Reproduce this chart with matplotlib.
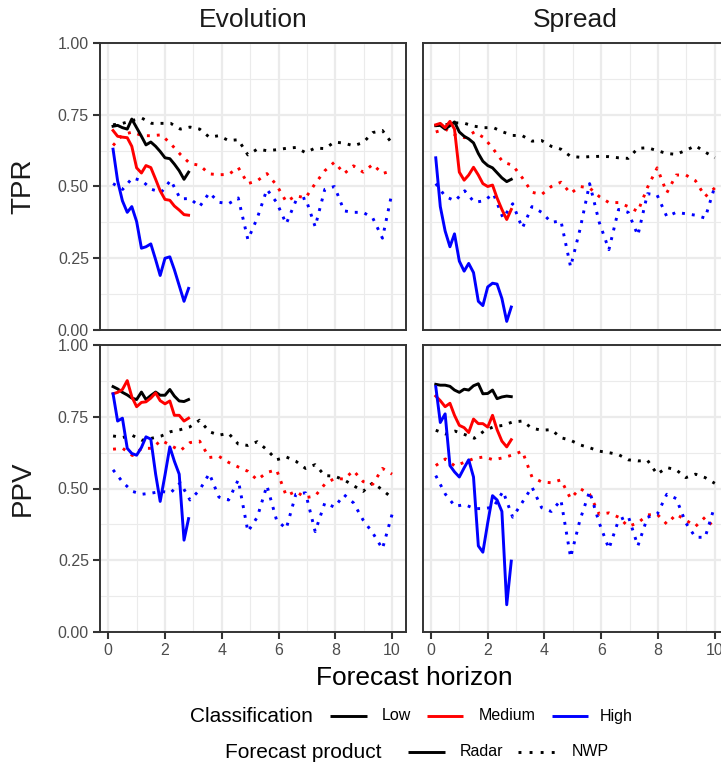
import matplotlib.pyplot as plt
from matplotlib.lines import Line2D

plt.rcParams['font.family'] = ['Liberation Sans', 'DejaVu Sans']

# forecast horizon (hours)
horizon_radar = [0.17, 0.33, 0.5, 0.67, 0.83, 1.0, 1.17, 1.33, 1.5, 1.67,
                 1.83, 2.0, 2.17, 2.33, 2.5, 2.67, 2.83]
horizon_nwp = [0.17, 0.51, 0.85, 1.19, 1.53, 1.87, 2.20, 2.54, 2.88, 3.22,
               3.56, 3.90, 4.24, 4.58, 4.92, 5.25, 5.59, 5.93, 6.27, 6.61,
               6.95, 7.29, 7.63, 7.97, 8.31, 8.64, 8.98, 9.32, 9.66, 10.0]

# TPR - Evolution
tpr_evo_radar_low = [0.71, 0.713, 0.705, 0.70, 0.735, 0.705, 0.675, 0.645, 0.655, 0.64,
                     0.622, 0.60, 0.597, 0.578, 0.555, 0.525, 0.55]
tpr_evo_radar_med = [0.695, 0.675, 0.672, 0.67, 0.64, 0.565, 0.547, 0.573, 0.566, 0.525,
                     0.485, 0.455, 0.452, 0.432, 0.418, 0.402, 0.40]
tpr_evo_radar_high = [0.63, 0.52, 0.45, 0.41, 0.43, 0.378, 0.285, 0.29, 0.30, 0.245,
                      0.19, 0.25, 0.255, 0.21, 0.155, 0.10, 0.145]
tpr_evo_nwp_low = [0.715, 0.72, 0.73, 0.738, 0.72, 0.72, 0.72, 0.70, 0.707, 0.70,
                   0.672, 0.677, 0.66, 0.663, 0.61, 0.63, 0.625, 0.628, 0.633, 0.636,
                   0.618, 0.634, 0.632, 0.655, 0.651, 0.642, 0.653, 0.688, 0.695, 0.65]
tpr_evo_nwp_med = [0.643, 0.68, 0.69, 0.677, 0.677, 0.68, 0.649, 0.612, 0.58, 0.574,
                   0.544, 0.541, 0.542, 0.566, 0.51, 0.52, 0.545, 0.505, 0.447, 0.468,
                   0.46, 0.51, 0.555, 0.585, 0.545, 0.572, 0.55, 0.577, 0.545, 0.555]
tpr_evo_nwp_high = [0.51, 0.49, 0.53, 0.52, 0.49, 0.48, 0.522, 0.457, 0.458, 0.43,
                    0.478, 0.445, 0.44, 0.46, 0.315, 0.39, 0.49, 0.445, 0.37, 0.45,
                    0.46, 0.36, 0.49, 0.50, 0.415, 0.41, 0.41, 0.39, 0.32, 0.48]

# TPR - Spread
tpr_spr_radar_low = [0.712, 0.713, 0.70, 0.712, 0.725, 0.69, 0.675, 0.666, 0.652, 0.615,
                     0.588, 0.573, 0.565, 0.548, 0.53, 0.517, 0.525]
tpr_spr_radar_med = [0.715, 0.72, 0.705, 0.727, 0.70, 0.55, 0.522, 0.54, 0.567, 0.54,
                     0.51, 0.50, 0.505, 0.46, 0.42, 0.385, 0.42]
tpr_spr_radar_high = [0.60, 0.43, 0.345, 0.29, 0.335, 0.24, 0.205, 0.232, 0.20, 0.10,
                      0.085, 0.15, 0.163, 0.16, 0.11, 0.03, 0.08]
tpr_spr_nwp_low = [0.712, 0.715, 0.722, 0.72, 0.71, 0.705, 0.705, 0.69, 0.678, 0.677,
                   0.658, 0.66, 0.64, 0.63, 0.605, 0.602, 0.604, 0.605, 0.604, 0.60,
                   0.598, 0.633, 0.635, 0.625, 0.615, 0.612, 0.626, 0.642, 0.62, 0.60]
tpr_spr_nwp_med = [0.69, 0.70, 0.68, 0.67, 0.69, 0.67, 0.63, 0.585, 0.574, 0.53,
                   0.48, 0.472, 0.50, 0.515, 0.476, 0.50, 0.495, 0.465, 0.444, 0.444,
                   0.43, 0.413, 0.497, 0.565, 0.478, 0.54, 0.54, 0.52, 0.465, 0.495]
tpr_spr_nwp_high = [0.51, 0.465, 0.45, 0.485, 0.445, 0.45, 0.475, 0.39, 0.44, 0.355,
                    0.43, 0.41, 0.375, 0.38, 0.22, 0.35, 0.51, 0.375, 0.28, 0.42,
                    0.41, 0.33, 0.475, 0.47, 0.395, 0.41, 0.405, 0.40, 0.39, 0.50]

# PPV - Evolution
ppv_evo_radar_low = [0.855, 0.847, 0.835, 0.826, 0.815, 0.81, 0.836, 0.81, 0.824, 0.836,
                     0.825, 0.825, 0.845, 0.822, 0.805, 0.803, 0.81]
ppv_evo_radar_med = [0.83, 0.835, 0.845, 0.876, 0.82, 0.785, 0.80, 0.802, 0.815, 0.833,
                     0.806, 0.795, 0.805, 0.755, 0.755, 0.735, 0.745]
ppv_evo_radar_high = [0.83, 0.735, 0.745, 0.64, 0.622, 0.616, 0.643, 0.68, 0.672, 0.55,
                      0.455, 0.547, 0.645, 0.595, 0.55, 0.32, 0.395]
ppv_evo_nwp_low = [0.683, 0.678, 0.685, 0.668, 0.675, 0.683, 0.698, 0.705, 0.715, 0.738,
                   0.698, 0.686, 0.692, 0.655, 0.65, 0.663, 0.635, 0.60, 0.61, 0.595,
                   0.57, 0.583, 0.545, 0.543, 0.53, 0.51, 0.49, 0.52, 0.495, 0.467]
ppv_evo_nwp_med = [0.637, 0.64, 0.615, 0.64, 0.64, 0.668, 0.65, 0.632, 0.66, 0.665,
                   0.608, 0.612, 0.591, 0.575, 0.56, 0.53, 0.556, 0.565, 0.475, 0.49,
                   0.468, 0.474, 0.515, 0.535, 0.533, 0.562, 0.524, 0.515, 0.57, 0.55]
ppv_evo_nwp_high = [0.565, 0.522, 0.49, 0.48, 0.484, 0.49, 0.485, 0.52, 0.46, 0.495,
                    0.552, 0.47, 0.46, 0.53, 0.35, 0.40, 0.51, 0.39, 0.36, 0.48,
                    0.485, 0.35, 0.45, 0.435, 0.478, 0.45, 0.39, 0.345, 0.29, 0.41]

# PPV - Spread
ppv_spr_radar_low = [0.863, 0.86, 0.86, 0.856, 0.843, 0.835, 0.846, 0.843, 0.858, 0.865,
                     0.83, 0.831, 0.843, 0.813, 0.819, 0.822, 0.82]
ppv_spr_radar_med = [0.822, 0.806, 0.785, 0.797, 0.755, 0.72, 0.712, 0.695, 0.742, 0.726,
                     0.726, 0.714, 0.755, 0.705, 0.665, 0.645, 0.67]
ppv_spr_radar_high = [0.855, 0.73, 0.76, 0.58, 0.558, 0.54, 0.572, 0.60, 0.54, 0.30,
                      0.278, 0.38, 0.475, 0.46, 0.42, 0.095, 0.247]
ppv_spr_nwp_low = [0.703, 0.69, 0.70, 0.688, 0.675, 0.70, 0.715, 0.72, 0.732, 0.735,
                   0.71, 0.703, 0.705, 0.677, 0.668, 0.652, 0.642, 0.63, 0.625, 0.618,
                   0.60, 0.596, 0.598, 0.55, 0.573, 0.565, 0.538, 0.55, 0.538, 0.518]
ppv_spr_nwp_med = [0.58, 0.603, 0.578, 0.592, 0.605, 0.61, 0.60, 0.607, 0.617, 0.63,
                   0.54, 0.523, 0.52, 0.53, 0.465, 0.50, 0.48, 0.41, 0.415, 0.40,
                   0.368, 0.38, 0.408, 0.41, 0.376, 0.41, 0.39, 0.368, 0.40, 0.36]
ppv_spr_nwp_high = [0.545, 0.48, 0.438, 0.444, 0.43, 0.43, 0.435, 0.49, 0.40, 0.452,
                    0.505, 0.433, 0.42, 0.46, 0.26, 0.39, 0.49, 0.38, 0.29, 0.39,
                    0.404, 0.30, 0.40, 0.41, 0.48, 0.465, 0.38, 0.33, 0.33, 0.44]

classes = ['Low', 'Medium', 'High']
class_colors = ['#000000', '#FF0000', '#0000FF']
metrics = ['TPR', 'PPV']
methods = ['Evolution', 'Spread']

panels = {
    ('TPR', 'Evolution'): ([tpr_evo_radar_low, tpr_evo_radar_med, tpr_evo_radar_high],
                           [tpr_evo_nwp_low, tpr_evo_nwp_med, tpr_evo_nwp_high]),
    ('TPR', 'Spread'): ([tpr_spr_radar_low, tpr_spr_radar_med, tpr_spr_radar_high],
                        [tpr_spr_nwp_low, tpr_spr_nwp_med, tpr_spr_nwp_high]),
    ('PPV', 'Evolution'): ([ppv_evo_radar_low, ppv_evo_radar_med, ppv_evo_radar_high],
                           [ppv_evo_nwp_low, ppv_evo_nwp_med, ppv_evo_nwp_high]),
    ('PPV', 'Spread'): ([ppv_spr_radar_low, ppv_spr_radar_med, ppv_spr_radar_high],
                        [ppv_spr_nwp_low, ppv_spr_nwp_med, ppv_spr_nwp_high]),
}

W, H = 721, 763
fig = plt.figure(figsize=(W / 100, H / 100), dpi=100)


def px_box(left, top, right, bottom):
    return [left / W, 1 - bottom / H, (right - left) / W, (bottom - top) / H]


col_x = [(100, 406), (422.7, 728.7)]
row_y = [(43, 330), (345, 632)]
LW = 2.1
DOTS = (0, (1, 2.4))
GRID = '#EBEBEB'
DARK = '#333333'

for i, metric in enumerate(metrics):
    for j, method in enumerate(methods):
        ax = fig.add_axes(px_box(col_x[j][0], row_y[i][0], col_x[j][1], row_y[i][1]))
        radar, nwp = panels[(metric, method)]
        for vals, c in zip(nwp, class_colors):
            ax.plot(horizon_nwp, vals, color=c, lw=LW, linestyle=DOTS,
                    dash_capstyle='butt')
        for vals, c in zip(radar, class_colors):
            ax.plot(horizon_radar, vals, color=c, lw=LW, solid_joinstyle='round')

        ax.set_xlim(-0.29, 10.49)
        ax.set_ylim(0, 1)
        ax.set_xticks([0, 2, 4, 6, 8, 10])
        ax.set_xticks([1, 3, 5, 7, 9], minor=True)
        ax.set_yticks([0, 0.25, 0.5, 0.75, 1.0])
        ax.set_yticks([0.125, 0.375, 0.625, 0.875], minor=True)
        ax.set_yticklabels(['0.00', '0.25', '0.50', '0.75', '1.00'])
        ax.grid(which='major', color=GRID, lw=1.6)
        ax.grid(which='minor', color=GRID, lw=0.8)
        ax.set_axisbelow(True)
        for s in ax.spines.values():
            s.set_color(DARK)
            s.set_linewidth(1.4)
        ax.tick_params(which='minor', length=0)
        ax.tick_params(which='major', direction='out', length=5, width=1.5,
                       color=DARK, labelcolor='#4D4D4D', labelsize=11.5, pad=3)
        if i == 0:
            ax.tick_params(axis='x', bottom=False, labelbottom=False)
        if j == 1:
            ax.tick_params(axis='y', left=False, labelleft=False)

# facet strips
for j, method in enumerate(methods):
    cx = (col_x[j][0] + col_x[j][1]) / 2
    fig.text(cx / W, 1 - 20 / H, method, ha='center', va='center', fontsize=19, color='#1A1A1A')
for i, metric in enumerate(metrics):
    cy = (row_y[i][0] + row_y[i][1]) / 2
    fig.text(23 / W, 1 - cy / H, metric, ha='center', va='center', rotation=90,
             fontsize=20, color='#1A1A1A')

fig.text(414 / W, 1 - 678 / H, 'Forecast horizon', ha='center', va='center', fontsize=19)

# legend rows
def legend_key(x0, x1, y, color, ls):
    fig.add_artist(Line2D([x0 / W, x1 / W], [1 - y / H, 1 - y / H], color=color, lw=LW,
                          linestyle=ls, dash_capstyle='butt', solid_capstyle='butt'))


y1 = 716
fig.text(190 / W, 1 - y1 / H, 'Classification', ha='left', va='center', fontsize=15)
for (k0, k1, lx), name, c in zip([(330, 367, 382), (427, 463, 479), (552, 588, 600)],
                                 classes, class_colors):
    legend_key(k0, k1, y1, c, '-')
    fig.text(lx / W, 1 - y1 / H, name, ha='left', va='center', fontsize=11.5)

y2 = 752
fig.text(225 / W, 1 - y2 / H, 'Forecast product', ha='left', va='center', fontsize=15)
legend_key(408, 445, y2, 'black', '-')
fig.text(460 / W, 1 - y2 / H, 'Radar', ha='left', va='center', fontsize=11.5)
legend_key(518, 557, y2, 'black', (0, (1, 2.8)))
fig.text(572 / W, 1 - y2 / H, 'NWP', ha='left', va='center', fontsize=11.5)

fig.savefig('out.png', dpi=100)
